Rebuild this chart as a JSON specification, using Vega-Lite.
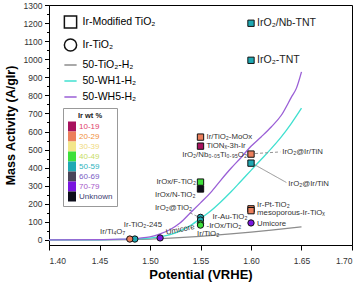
{
  "$schema": "https://vega.github.io/schema/vega-lite/v6.json",
  "width": 303,
  "height": 240,
  "autosize": {"type": "none"},
  "padding": {"left": 49, "top": 5, "right": 12, "bottom": 44},
  "background": "white",
  "config": {
    "view": {"stroke": "black", "strokeWidth": 1},
    "axis": {"labelFont": "Liberation Sans", "titleFont": "Liberation Sans", "domainColor": "black", "tickColor": "black", "grid": false, "labelColor": "#333", "titleColor": "black"},
    "legend": {"labelFont": "Liberation Sans", "titleFont": "Liberation Sans"},
    "text": {"font": "Liberation Sans"}
  },
  "datasets": {
    "curves": [
      {"type": "50-TiO₂-H₂", "potential": 1.40, "activity": 0},
      {"type": "50-TiO₂-H₂", "potential": 1.45, "activity": 0.5},
      {"type": "50-TiO₂-H₂", "potential": 1.48, "activity": 2},
      {"type": "50-TiO₂-H₂", "potential": 1.50, "activity": 5},
      {"type": "50-TiO₂-H₂", "potential": 1.52, "activity": 10},
      {"type": "50-TiO₂-H₂", "potential": 1.55, "activity": 20},
      {"type": "50-TiO₂-H₂", "potential": 1.58, "activity": 33},
      {"type": "50-TiO₂-H₂", "potential": 1.60, "activity": 43},
      {"type": "50-TiO₂-H₂", "potential": 1.62, "activity": 54},
      {"type": "50-TiO₂-H₂", "potential": 1.65, "activity": 72},
      {"type": "50-WH1-H₂", "potential": 1.40, "activity": 0},
      {"type": "50-WH1-H₂", "potential": 1.45, "activity": 1},
      {"type": "50-WH1-H₂", "potential": 1.48, "activity": 4},
      {"type": "50-WH1-H₂", "potential": 1.50, "activity": 10},
      {"type": "50-WH1-H₂", "potential": 1.51, "activity": 18},
      {"type": "50-WH1-H₂", "potential": 1.52, "activity": 30},
      {"type": "50-WH1-H₂", "potential": 1.53, "activity": 50},
      {"type": "50-WH1-H₂", "potential": 1.54, "activity": 80},
      {"type": "50-WH1-H₂", "potential": 1.55, "activity": 118},
      {"type": "50-WH1-H₂", "potential": 1.56, "activity": 160},
      {"type": "50-WH1-H₂", "potential": 1.57, "activity": 210},
      {"type": "50-WH1-H₂", "potential": 1.58, "activity": 265},
      {"type": "50-WH1-H₂", "potential": 1.59, "activity": 325},
      {"type": "50-WH1-H₂", "potential": 1.60, "activity": 385},
      {"type": "50-WH1-H₂", "potential": 1.61, "activity": 445},
      {"type": "50-WH1-H₂", "potential": 1.62, "activity": 505},
      {"type": "50-WH1-H₂", "potential": 1.63, "activity": 570},
      {"type": "50-WH1-H₂", "potential": 1.64, "activity": 645},
      {"type": "50-WH1-H₂", "potential": 1.65, "activity": 729},
      {"type": "50-WH5-H₂", "potential": 1.40, "activity": 0},
      {"type": "50-WH5-H₂", "potential": 1.45, "activity": 2},
      {"type": "50-WH5-H₂", "potential": 1.47, "activity": 4},
      {"type": "50-WH5-H₂", "potential": 1.48, "activity": 6},
      {"type": "50-WH5-H₂", "potential": 1.49, "activity": 10},
      {"type": "50-WH5-H₂", "potential": 1.50, "activity": 17},
      {"type": "50-WH5-H₂", "potential": 1.51, "activity": 33},
      {"type": "50-WH5-H₂", "potential": 1.52, "activity": 58},
      {"type": "50-WH5-H₂", "potential": 1.53, "activity": 95},
      {"type": "50-WH5-H₂", "potential": 1.54, "activity": 150},
      {"type": "50-WH5-H₂", "potential": 1.55, "activity": 205},
      {"type": "50-WH5-H₂", "potential": 1.56, "activity": 262},
      {"type": "50-WH5-H₂", "potential": 1.57, "activity": 330},
      {"type": "50-WH5-H₂", "potential": 1.58, "activity": 395},
      {"type": "50-WH5-H₂", "potential": 1.59, "activity": 455},
      {"type": "50-WH5-H₂", "potential": 1.60, "activity": 518},
      {"type": "50-WH5-H₂", "potential": 1.61, "activity": 570},
      {"type": "50-WH5-H₂", "potential": 1.62, "activity": 625},
      {"type": "50-WH5-H₂", "potential": 1.63, "activity": 690},
      {"type": "50-WH5-H₂", "potential": 1.64, "activity": 790},
      {"type": "50-WH5-H₂", "potential": 1.645, "activity": 840},
      {"type": "50-WH5-H₂", "potential": 1.65, "activity": 930}
    ],
    "points": [
      {"name": "IrO₂/Nb-TNT", "type": "Ir-Modified TiO₂", "wt": "50-59", "potential": 1.60, "activity": 1199},
      {"name": "IrO₂-TNT", "type": "Ir-Modified TiO₂", "wt": "50-59", "potential": 1.60, "activity": 994},
      {"name": "Ir/TiO₂-MoOx", "type": "Ir-Modified TiO₂", "wt": "20-29", "potential": 1.55, "activity": 569},
      {"name": "TiONₓ-3h-Ir", "type": "Ir-Modified TiO₂", "wt": "10-19", "potential": 1.55, "activity": 519},
      {"name": "IrO₂/Nb₀.₀₅Ti₀.₉₅O₂", "type": "Ir-Modified TiO₂", "wt": "20-29", "potential": 1.60, "activity": 475},
      {"name": "IrO₂@Ir/TiN", "type": "Ir-Modified TiO₂", "wt": "50-59", "potential": 1.60, "activity": 425},
      {"name": "IrOx/F-TiO₂", "type": "Ir-Modified TiO₂", "wt": "40-49", "potential": 1.55, "activity": 320},
      {"name": "IrOx/N-TiO₂", "type": "Ir-Modified TiO₂", "wt": "Unknown", "potential": 1.55, "activity": 282},
      {"name": "Ir-Pt-TiO₂", "type": "Ir-Modified TiO₂", "wt": "20-29", "potential": 1.60, "activity": 172},
      {"name": "mesoporous-Ir-TiOₓ", "type": "Ir-Modified TiO₂", "wt": "20-29", "potential": 1.60, "activity": 162},
      {"name": "Umicore", "type": "Ir-TiO₂", "wt": "70-79", "potential": 1.60, "activity": 94},
      {"name": "IrO₂@TiO₂", "type": "Ir-TiO₂", "wt": "50-59", "potential": 1.55, "activity": 125},
      {"name": "Ir-Au-TiO₂", "type": "Ir-TiO₂", "wt": "50-59", "potential": 1.55, "activity": 110},
      {"name": "IrOx/TiO₂", "type": "Ir-TiO₂", "wt": "40-49", "potential": 1.55, "activity": 90},
      {"name": "Ir/TiO₂", "type": "Ir-TiO₂", "wt": "40-49", "potential": 1.55, "activity": 82},
      {"name": "Umicore", "type": "Ir-TiO₂", "wt": "70-79", "potential": 1.51, "activity": 11},
      {"name": "Ir-TiO₂-245", "type": "Ir-TiO₂", "wt": "50-59", "potential": 1.485, "activity": 5},
      {"name": "Ir/Ti₄O₇", "type": "Ir-TiO₂", "wt": "20-29", "potential": 1.48, "activity": 5}
    ],
    "labels": [
      {"label": "IrO₂/Nb-TNT", "potential": 1.606, "activity": 1199, "side": "right"},
      {"label": "IrO₂-TNT", "potential": 1.606, "activity": 994, "side": "right"},
      {"label": "Ir/TiO₂-MoOx", "potential": 1.556, "activity": 571, "side": "right"},
      {"label": "TiONₓ-3h-Ir", "potential": 1.556, "activity": 519, "side": "right"},
      {"label": "IrO₂/Nb₀.₀₅Ti₀.₉₅O₂", "potential": 1.596, "activity": 470, "side": "left"},
      {"label": "IrO₂@Ir/TiN", "potential": 1.631, "activity": 488, "side": "right"},
      {"label": "IrO₂@Ir/TiN", "potential": 1.637, "activity": 309, "side": "right"},
      {"label": "IrOx/F-TiO₂", "potential": 1.5455, "activity": 320, "side": "left"},
      {"label": "IrOx/N-TiO₂", "potential": 1.545, "activity": 249, "side": "left"},
      {"label": "IrO₂@TiO₂", "potential": 1.5416, "activity": 177, "side": "left"},
      {"label": "Ir-Au-TiO₂", "potential": 1.562, "activity": 127, "side": "right"},
      {"label": "-IrOx/TiO₂", "potential": 1.556, "activity": 77, "side": "right"},
      {"label": "Ir/TiO₂", "potential": 1.5465, "activity": 33, "side": "right"},
      {"label": "Umicore", "potential": 1.516, "activity": 39, "side": "right"},
      {"label": "Umicore", "potential": 1.606, "activity": 88, "side": "right"},
      {"label": "Ir-Pt-TiO₂", "potential": 1.606, "activity": 196, "side": "right"},
      {"label": "mesoporous-Ir-TiOₓ", "potential": 1.606, "activity": 148, "side": "right"},
      {"label": "Ir-TiO₂-245", "potential": 1.474, "activity": 83, "side": "right"},
      {"label": "Ir/Ti₄O₇", "potential": 1.4505, "activity": 44, "side": "right"}
    ],
    "leaders": [
      {"potential": 1.604, "activity": 478, "potential2": 1.629, "activity2": 487, "style": "dashed"},
      {"potential": 1.603, "activity": 418, "potential2": 1.635, "activity2": 318, "style": "solid"},
      {"potential": 1.5396, "activity": 150, "potential2": 1.5475, "activity2": 128, "style": "dashed"}
    ]
  },
  "encoding": {
    "x": {"field": "potential", "type": "quantitative", "scale": {"domain": [1.4, 1.7], "nice": false, "zero": false},
      "axis": {"title": "Potential (VRHE)", "values": [1.4, 1.45, 1.5, 1.55, 1.6, 1.65, 1.7], "format": ".2f", "tickSize": 5, "labelPadding": 6, "labelFontSize": 8.5, "titleFontSize": 13, "titleFontWeight": "bold", "titlePadding": 4}},
    "y": {"field": "activity", "type": "quantitative", "scale": {"domain": [-28, 1300], "nice": false, "zero": false},
      "axis": {"title": "Mass Activity (A/gIr)", "values": [0, 50, 100, 150, 200, 250, 300, 350, 400, 450, 500, 550, 600, 650, 700, 750, 800, 850, 900, 950, 1000, 1050, 1100, 1150, 1200, 1250, 1300],
        "format": "d",
        "labelExpr": "datum.value % 100 === 0 ? datum.label : ''",
        "tickSize": {"condition": {"test": "datum.value % 100 !== 0", "value": 2.5}, "value": 4.5},
        "labelPadding": 2.5, "labelFontSize": 8.5, "titleFontSize": 12.5, "titleFontWeight": "bold", "titlePadding": 6}}
  },
  "layer": [
    {
      "data": {"name": "curves"},
      "mark": {"type": "line", "strokeWidth": 1.3, "interpolate": "monotone"},
      "encoding": {
        "stroke": {"field": "type", "type": "nominal",
          "scale": {"domain": ["Ir-Modified TiO₂", "Ir-TiO₂", "50-TiO₂-H₂", "50-WH1-H₂", "50-WH5-H₂"], "range": ["#111111", "#111111", "#8c8c8c", "#40e0d0", "#9a5fd6"]},
          "legend": {"title": null, "orient": "none", "legendX": 14.5, "legendY": 10, "symbolSize": 150, "symbolStrokeWidth": 1.5, "symbolFillColor": "white", "labelFontSize": 10.5, "labelColor": "black", "rowPadding": 3, "labelOffset": 5, "padding": 0}}
      }
    },
    {
      "data": {"name": "leaders"},
      "mark": {"type": "rule", "stroke": "#888", "strokeWidth": 0.9},
      "encoding": {
        "x2": {"field": "potential2"},
        "y2": {"field": "activity2"},
        "strokeDash": {"field": "style", "type": "nominal", "scale": {"domain": ["solid", "dashed"], "range": [[1, 0], [3, 2]]}, "legend": null}
      }
    },
    {
      "data": {"name": "points"},
      "mark": {"type": "point", "filled": true, "size": 40, "strokeWidth": 1, "opacity": 1},
      "encoding": {
        "shape": {"field": "type", "type": "nominal",
          "scale": {"domain": ["Ir-Modified TiO₂", "Ir-TiO₂", "50-TiO₂-H₂", "50-WH1-H₂", "50-WH5-H₂"], "range": ["square", "circle", "M-1,0H1", "M-1,0H1", "M-1,0H1"]},
          "legend": {"title": null, "orient": "none", "legendX": 14.5, "legendY": 10, "symbolSize": 150, "symbolStrokeWidth": 1.5, "symbolFillColor": "white", "labelFontSize": 10.5, "labelColor": "black", "rowPadding": 3, "labelOffset": 5, "padding": 0}},
        "stroke": {"field": "type", "type": "nominal",
          "scale": {"domain": ["Ir-Modified TiO₂", "Ir-TiO₂", "50-TiO₂-H₂", "50-WH1-H₂", "50-WH5-H₂"], "range": ["#111111", "#111111", "#8c8c8c", "#40e0d0", "#9a5fd6"]},
          "legend": {"title": null, "orient": "none", "legendX": 14.5, "legendY": 10, "symbolSize": 150, "symbolStrokeWidth": 1.5, "symbolFillColor": "white", "labelFontSize": 10.5, "labelColor": "black", "rowPadding": 3, "labelOffset": 5, "padding": 0}},
        "fill": {"field": "wt", "type": "nominal",
          "scale": {"domain": ["10-19", "20-29", "30-39", "40-49", "50-59", "60-69", "70-79", "Unknown"], "range": ["#a8125e", "#ec7f5c", "#f3e68a", "#3ee03a", "#1fa9b3", "#4a4458", "#7a16e0", "#0d0d1a"]},
          "legend": {"title": "Ir wt %", "orient": "none", "legendX": 14, "legendY": 103, "padding": 4, "strokeColor": "#999", "fillColor": "white",
            "titleFontSize": 7.5, "titleFontWeight": "bold", "titleColor": "#222", "titleAnchor": "middle", "titlePadding": 2,
            "symbolType": "M-0.8,-1H0.8V1H-0.8Z", "symbolSize": 100, "symbolStrokeWidth": 0, "symbolOpacity": 1, "rowPadding": 0,
            "labelFontSize": 8, "labelOffset": 2,
            "labelColor": {"expr": "datum.label === '10-19' ? '#e0406a' : datum.label === '20-29' ? '#f0903c' : datum.label === '30-39' ? '#f0da80' : datum.label === '40-49' ? '#c8dc66' : datum.label === '50-59' ? '#30b4be' : datum.label === '60-69' ? '#7a5cc4' : datum.label === '70-79' ? '#a657c8' : '#3c3c70'"}}}
      }
    },
    {
      "data": {"name": "labels"},
      "transform": [{"filter": "datum.side === 'right' && datum.label !== 'IrO₂/Nb-TNT' && datum.label !== 'IrO₂-TNT' && !(datum.label === 'Umicore' && datum.potential < 1.55)"}],
      "mark": {"type": "text", "align": "left", "baseline": "middle", "fontSize": 7.8, "fill": "#333"},
      "encoding": {"text": {"field": "label"}}
    },
    {
      "data": {"name": "labels"},
      "transform": [{"filter": "datum.side === 'left'"}],
      "mark": {"type": "text", "align": "right", "baseline": "middle", "fontSize": 7.8, "fill": "#333"},
      "encoding": {"text": {"field": "label"}}
    },
    {
      "data": {"name": "labels"},
      "transform": [{"filter": "datum.label === 'IrO₂/Nb-TNT' || datum.label === 'IrO₂-TNT'"}],
      "mark": {"type": "text", "align": "left", "baseline": "middle", "fontSize": 10.5, "fill": "#222"},
      "encoding": {"text": {"field": "label"}}
    },
    {
      "data": {"name": "labels"},
      "transform": [{"filter": "datum.label === 'Umicore' && datum.potential < 1.55"}],
      "mark": {"type": "text", "align": "left", "baseline": "middle", "fontSize": 7.8, "fill": "#333", "angle": 348},
      "encoding": {"text": {"field": "label"}}
    }
  ]
}
